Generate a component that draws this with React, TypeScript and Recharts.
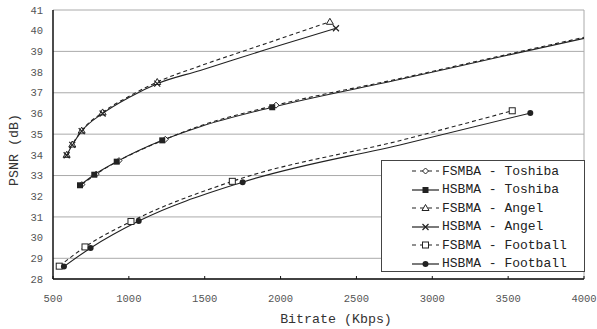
import React from 'react';
import { LineChart, Line, XAxis, YAxis, CartesianGrid, Legend, ReferenceLine, Label } from 'recharts';

// bitrate (Kbps) / PSNR (dB), including a few points
const fsmbaToshibaRate = [690, 785, 935, 1240, 1470, 1970, 2820, 3450, 4000];
const fsmbaToshibaPsnr = [32.56, 33.07, 33.72, 34.75, 35.4, 36.4, 37.74, 38.78, 39.68];
const hsbmaToshibaRate = [678, 772, 920, 1220, 1470, 1945, 2820, 3450, 4000];
const hsbmaToshibaPsnr = [32.53, 33.04, 33.67, 34.7, 35.36, 36.3, 37.7, 38.74, 39.63];
const fsbmaAngelRate = [590, 627, 689, 827, 1007, 1187, 1470, 1900, 2325];
const fsbmaAngelPsnr = [34.0, 34.5, 35.17, 36.05, 36.85, 37.52, 38.3, 39.37, 40.43];
const hsbmaAngelRate = [590, 627, 689, 827, 1007, 1187, 1470, 1900, 2365];
const hsbmaAngelPsnr = [33.98, 34.48, 35.15, 36.0, 36.8, 37.44, 38.08, 39.08, 40.12];
const fsbmaFootballRate = [541, 711, 1014, 1682, 2820, 3527];
const fsbmaFootballPsnr = [28.62, 29.55, 30.78, 32.72, 34.75, 36.13];
const hsbmaFootballRate = [572, 748, 1065, 1750, 2820, 3646];
const hsbmaFootballPsnr = [28.6, 29.5, 30.8, 32.68, 34.54, 36.02];

// bitrates where the figure shows a marker
const fsmbaToshibaMarks = [690, 785, 935, 1240, 1970];
const hsbmaToshibaMarks = [678, 772, 920, 1220, 1945];
const fsbmaAngelMarks = [590, 627, 689, 827, 1187, 2325];
const hsbmaAngelMarks = [590, 627, 689, 827, 1187, 2365];
const fsbmaFootballMarks = [541, 711, 1014, 1682, 3527];
const hsbmaFootballMarks = [572, 748, 1065, 1750, 3646];

const xTicks = [500, 1000, 1500, 2000, 2500, 3000, 3500, 4000];
const yTicks = [28, 29, 30, 31, 32, 33, 34, 35, 36, 37, 38, 39, 40, 41];

const MONO = '"Liberation Mono", "DejaVu Sans Mono", monospace';
const INK = '#222';

const toPoints = (rate: number[], psnr: number[]) => rate.map((r, i) => ({ rate: r, psnr: psnr[i] }));

type Shape = 'diamond' | 'square' | 'triangle' | 'cross' | 'openSquare' | 'circle';

const Marker = ({ shape, cx, cy }: { shape: Shape; cx: number; cy: number }) => {
  switch (shape) {
    case 'diamond':
      return <path d={`M${cx},${cy - 3}L${cx + 3},${cy}L${cx},${cy + 3}L${cx - 3},${cy}Z`} fill="#fff" stroke={INK} strokeWidth={1} />;
    case 'square':
      return <rect x={cx - 3} y={cy - 3} width={6} height={6} fill={INK} />;
    case 'triangle':
      return <path d={`M${cx},${cy - 3.5}L${cx + 3.5},${cy + 2.5}L${cx - 3.5},${cy + 2.5}Z`} fill="#fff" stroke={INK} strokeWidth={1} />;
    case 'cross':
      return <path d={`M${cx - 3},${cy - 3}L${cx + 3},${cy + 3}M${cx - 3},${cy + 3}L${cx + 3},${cy - 3}`} stroke={INK} strokeWidth={1.2} />;
    case 'openSquare':
      return <rect x={cx - 3} y={cy - 3} width={6} height={6} fill="#fff" stroke={INK} strokeWidth={1} />;
    default:
      return <circle cx={cx} cy={cy} r={3} fill={INK} />;
  }
};

const series: { name: string; data: { rate: number; psnr: number }[]; marks: number[]; dashed: boolean; shape: Shape }[] = [
  { name: 'FSMBA - Toshiba', data: toPoints(fsmbaToshibaRate, fsmbaToshibaPsnr), marks: fsmbaToshibaMarks, dashed: true, shape: 'diamond' },
  { name: 'HSBMA - Toshiba', data: toPoints(hsbmaToshibaRate, hsbmaToshibaPsnr), marks: hsbmaToshibaMarks, dashed: false, shape: 'square' },
  { name: 'FSBMA - Angel', data: toPoints(fsbmaAngelRate, fsbmaAngelPsnr), marks: fsbmaAngelMarks, dashed: true, shape: 'triangle' },
  { name: 'HSBMA - Angel', data: toPoints(hsbmaAngelRate, hsbmaAngelPsnr), marks: hsbmaAngelMarks, dashed: false, shape: 'cross' },
  { name: 'FSBMA - Football', data: toPoints(fsbmaFootballRate, fsbmaFootballPsnr), marks: fsbmaFootballMarks, dashed: true, shape: 'openSquare' },
  { name: 'HSBMA - Football', data: toPoints(hsbmaFootballRate, hsbmaFootballPsnr), marks: hsbmaFootballMarks, dashed: false, shape: 'circle' },
];

const LegendBox = () => (
  <div
    style={{
      boxSizing: 'border-box',
      width: 204,
      height: 112,
      border: '1px solid #444',
      background: '#fff',
      paddingTop: 1,
      paddingLeft: 30,
      fontFamily: MONO,
      fontSize: 13,
      color: INK,
    }}
  >
    {series.map(s => (
      <div key={s.name} style={{ height: 18.5, display: 'flex', alignItems: 'center', whiteSpace: 'pre' }}>
        <svg width={27} height={10} style={{ marginRight: 3 }}>
          <line x1={0} y1={5} x2={27} y2={5} stroke={INK} strokeWidth={1.2} strokeDasharray={s.dashed ? '4 4' : undefined} />
          <Marker shape={s.shape} cx={13.5} cy={5} />
        </svg>
        {s.name}
      </div>
    ))}
  </div>
);

export default function App() {
  return (
    <div style={{ position: 'fixed', left: 0, top: 0, background: '#fff' }}>
      <LineChart width={597} height={329} margin={{ top: 10, right: 13, left: 0, bottom: 0 }}>
        <CartesianGrid vertical={false} stroke="#aaa" strokeWidth={1} />
        <XAxis
          dataKey="rate"
          type="number"
          domain={[500, 4000]}
          ticks={xTicks}
          height={50}
          allowDuplicatedCategory={false}
          axisLine={{ stroke: '#111', strokeWidth: 1.5 }}
          tickLine={{ stroke: '#111' }}
          tickSize={-3}
          tickMargin={19}
          tick={{ fill: '#555', fontSize: 10.5, fontFamily: MONO }}
        >
          <Label
            content={() => (
              <text x={336} y={323} textAnchor="middle" fill="#333" fontSize={13.3} fontFamily={MONO}>
                Bitrate (Kbps)
              </text>
            )}
          />
        </XAxis>
        <YAxis
          dataKey="psnr"
          type="number"
          domain={[28, 41]}
          ticks={yTicks}
          width={53}
          axisLine={{ stroke: '#111', strokeWidth: 1.5 }}
          tickLine={false}
          tickSize={0}
          tickMargin={10}
          tick={{ fill: '#555', fontSize: 10.5, fontFamily: MONO }}
        >
          <Label
            content={() => (
              <text x={18} y={150} transform="rotate(-90 18 150)" textAnchor="middle" fill="#333" fontSize={13.3} fontFamily={MONO}>
                PSNR (dB)
              </text>
            )}
          />
        </YAxis>
        <ReferenceLine x={4000} stroke="#aaa" strokeWidth={1} />
        {series.map(s => (
          <Line
            key={s.name}
            name={s.name}
            data={s.data}
            dataKey="psnr"
            type="monotone"
            stroke={INK}
            strokeWidth={1.1}
            strokeDasharray={s.dashed ? '4 3' : undefined}
            isAnimationActive={false}
            dot={(p: any) =>
              s.marks.includes(p.payload.rate) ? (
                <Marker key={`${s.name}-${p.index}`} shape={s.shape} cx={p.cx} cy={p.cy} />
              ) : (
                <g key={`${s.name}-${p.index}`} />
              )
            }
            activeDot={false}
          />
        ))}
        <Legend
          layout="vertical"
          align="center"
          verticalAlign="middle"
          content={() => <LegendBox />}
          wrapperStyle={{ position: 'absolute', left: 381, top: 160, width: 204, height: 112 }}
        />
      </LineChart>
    </div>
  );
}
